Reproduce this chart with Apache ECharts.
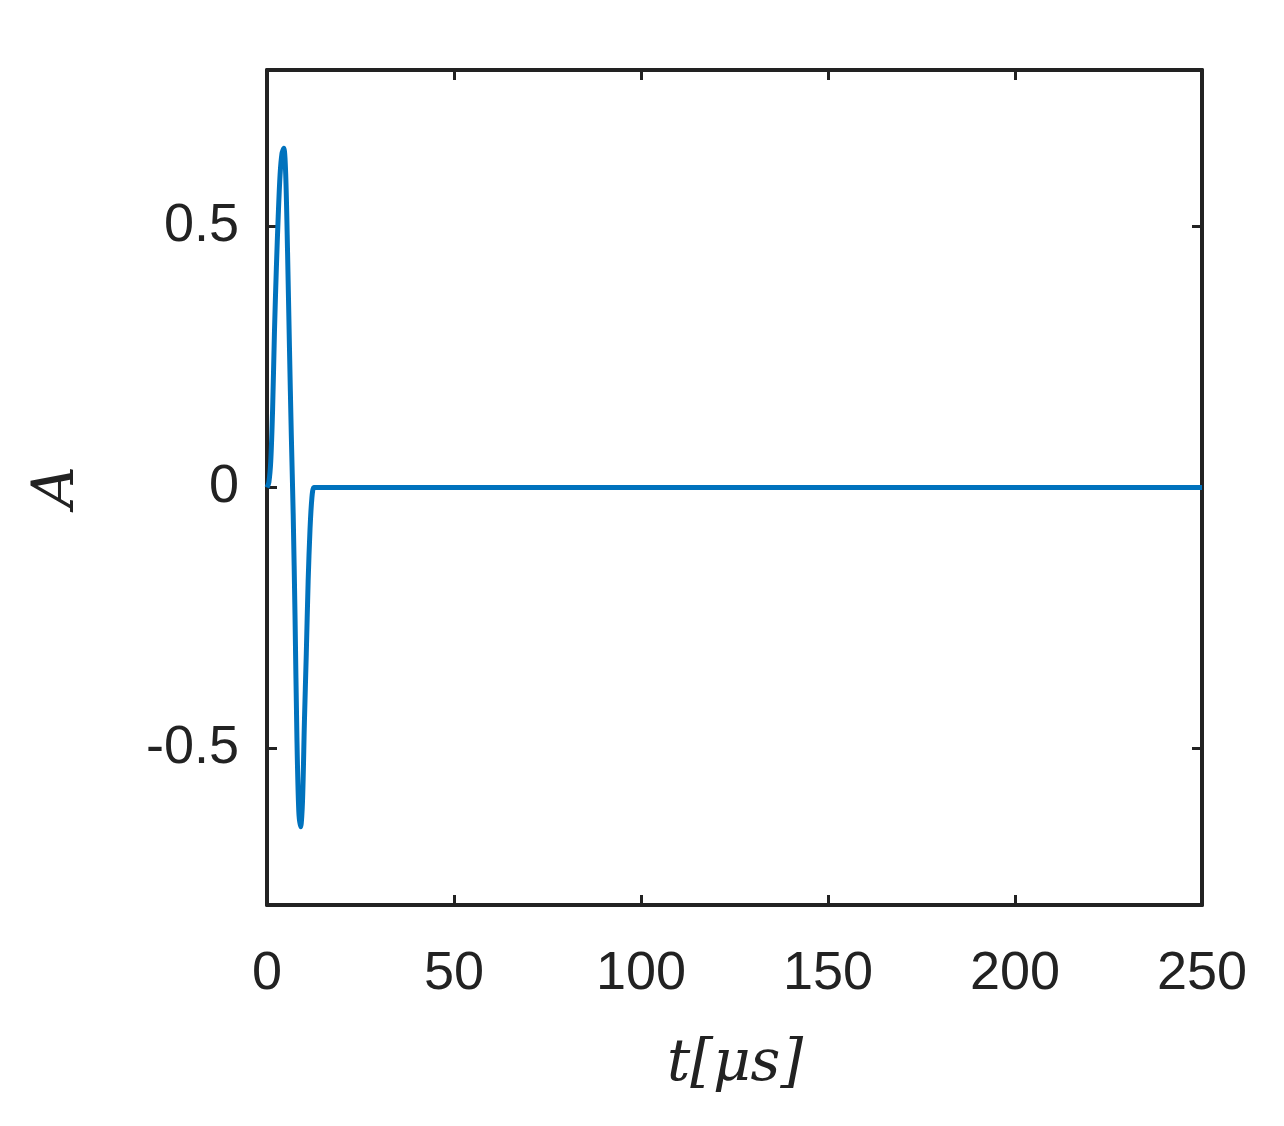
<!DOCTYPE html>
<html><head><meta charset="utf-8">
<script src="https://cdn.jsdelivr.net/npm/echarts@6/dist/echarts.min.js"></script>
<style>html,body{margin:0;background:#fff}#c{width:1284px;height:1126px}</style>
</head><body><div id="c"></div>
<script>
const times = [0,0.5,1,1.5,2,2.5,3,3.5,4,4.5,5,5.5,6,6.5,7,7.5,8,8.5,9,9.5,10,10.5,11,11.5,12,12.5,13,250];
const amps  = [0,0.01,0.05,0.15,0.3,0.42,0.52,0.6,0.64,0.65,0.6,0.45,0.27,0.1,-0.05,-0.25,-0.48,-0.62,-0.65,-0.6,-0.45,-0.32,-0.18,-0.08,-0.02,0,0,0];
const xTicks = [0,50,100,150,200,250];
const yTicks = [-0.5,0,0.5];
const lineC = '#222';
const axLine = {show:true,onZero:false,lineStyle:{color:lineC,width:4}};
const tick = {inside:true,length:10,lineStyle:{color:lineC,width:3}};
const lbl = {fontSize:54,color:lineC,fontFamily:'Arial, Liberation Sans'};
const chart = echarts.init(document.getElementById('c'));
chart.setOption({
  animation:false,
  grid:{left:267,top:70,width:935,height:835},
  xAxis:[
    {type:'value',min:0,max:250,interval:50,position:'bottom',axisLine:axLine,splitLine:{show:false},
      axisTick:tick,axisLabel:Object.assign({margin:42},lbl)},
    {type:'value',min:0,max:250,interval:50,position:'top',axisLine:axLine,splitLine:{show:false},
      axisTick:tick,axisLabel:{show:false}}
  ],
  yAxis:[
    {type:'value',min:-0.8,max:0.8,position:'left',axisLine:axLine,splitLine:{show:false},
      axisTick:Object.assign({customValues:yTicks},tick),
      axisLabel:Object.assign({customValues:yTicks,margin:28},lbl)},
    {type:'value',min:-0.8,max:0.8,position:'right',axisLine:axLine,splitLine:{show:false},
      axisTick:Object.assign({customValues:yTicks},tick),axisLabel:{show:false}}
  ],
  graphic:[
    {type:'text',style:{text:'A',font:'italic 58px "DejaVu Serif", serif',fill:lineC,align:'center',verticalAlign:'middle'},
      x:58,y:487,rotation:Math.PI/2},
    {type:'text',style:{text:'t[μs]',font:'italic 58px "DejaVu Serif", serif',fill:lineC,align:'center',verticalAlign:'middle'},x:735,y:1065}
  ],
  series:[{type:'line',data:times.map((t,i)=>[t,amps[i]]),showSymbol:false,smooth:0.3,
    lineStyle:{color:'#0072BD',width:5},itemStyle:{color:'#0072BD'}}]
});
</script></body></html>
